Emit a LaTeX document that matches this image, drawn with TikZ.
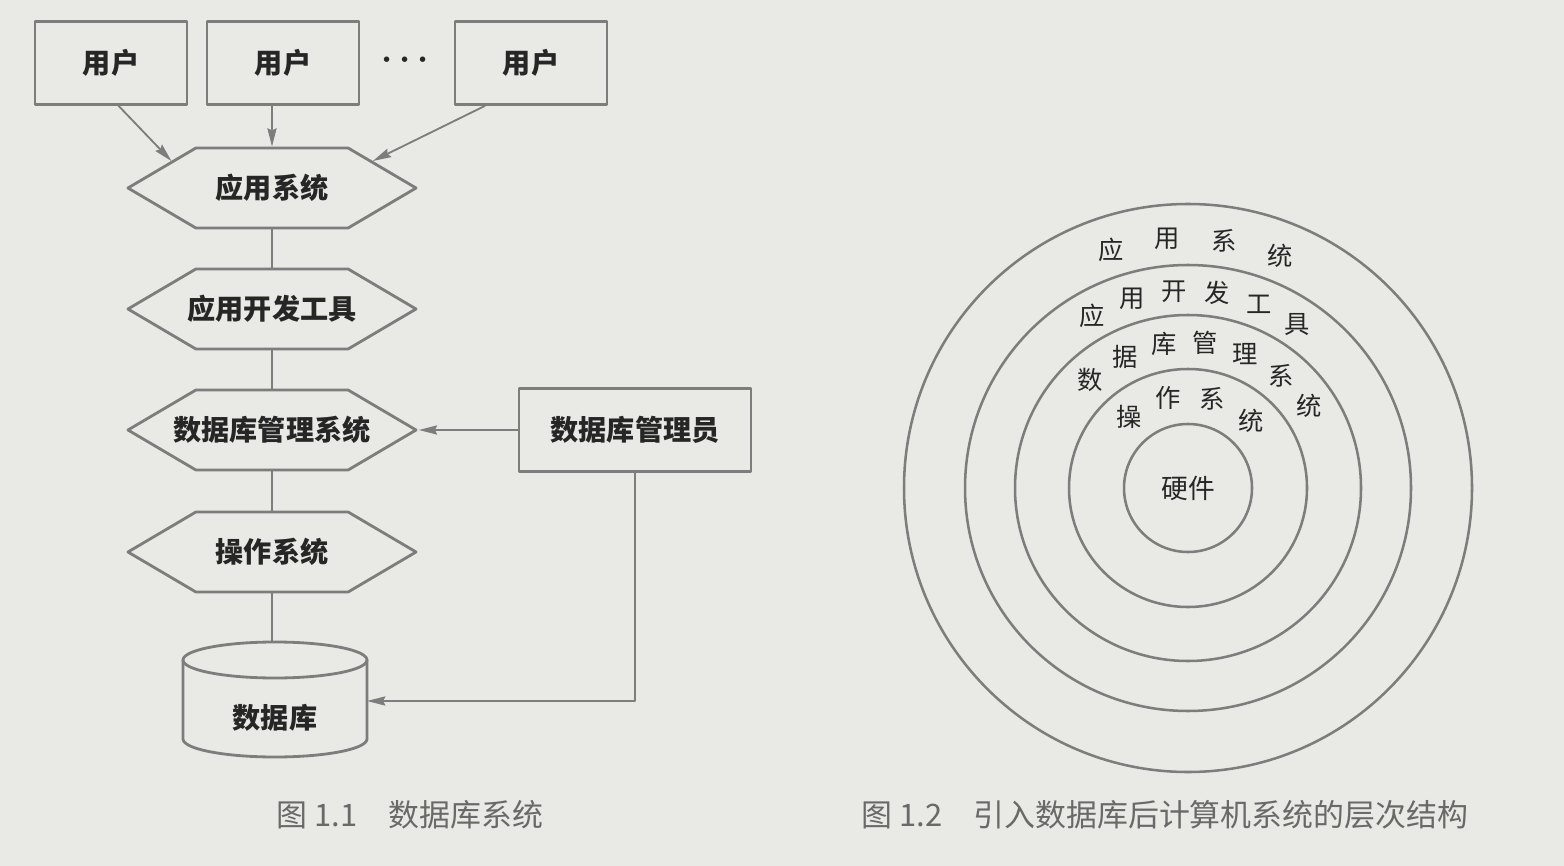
\documentclass[tikz,border=0pt]{standalone}
\usepackage{fontspec}
\newfontfamily\cjk{Noto Sans CJK SC}
\usetikzlibrary{shapes.symbols,arrows.meta}
\definecolor{paper}{RGB}{233,233,230}
\definecolor{ink}{RGB}{125,125,125}
\definecolor{txt}{RGB}{38,38,38}
\definecolor{captxt}{RGB}{105,105,105}
\begin{document}
\begin{tikzpicture}[x=0.025cm, y=-0.025cm, line join=round,
	lbl/.style={font=\cjk\bfseries\fontsize{20}{20}\selectfont, text=txt},
	box/.style={lbl, draw=ink, line width=2pt, minimum height=2.07cm},
	hexa/.style={draw=ink, line width=2pt, signal, signal to=west and east, signal pointer angle=61, minimum width=7.2cm, minimum height=2cm, inner sep=0pt},
	ring/.style={font=\cjk\fontsize{18}{18}\selectfont, text=txt, inner sep=0pt},
	figcap/.style={font=\cjk\fontsize{22}{22}\selectfont, text=captxt},
	arr/.style={draw=ink, line width=1.3pt, -{Stealth[length=13pt, width=6.5pt, inset=1.5pt]}},
	link/.style={draw=ink, line width=1.3pt}]
	\useasboundingbox (0,0) rectangle (1564,866);
	\fill[paper] (0,0) rectangle (1564,866);
	% users
	\node[box, minimum width=3.8cm] (u1) at (111,63) {用户};
	\node[box, minimum width=3.8cm] (u2) at (283,63) {用户};
	\node[lbl, font=\fontsize{24}{24}\selectfont\boldmath] (dots) at (405,60) {$\cdots$};
	\node[box, minimum width=3.8cm] (u3) at (531,63) {用户};
	% layers
	\node[hexa, label={[lbl]center:应用系统}] (app) at (272,188) {};
	\node[hexa, label={[lbl]center:应用开发工具}] (dev) at (272,309) {};
	\node[hexa, label={[lbl]center:数据库管理系统}] (dbms) at (272,430) {};
	\node[hexa, label={[lbl]center:操作系统}] (os) at (272,552) {};
	\node[box, minimum width=5.8cm] (dba) at (635,430) {数据库管理员};
	% cylinder
	\draw[ink, line width=2pt] (275,660) ellipse [x radius=92, y radius=18];
	\draw[ink, line width=2pt] (183,660) -- (183,739) arc[start angle=180, end angle=0, x radius=92, y radius=18] -- (367,660);
	\node[lbl] (db) at (275,718) {数据库};
	\coordinate (dbtop) at (275,642);
	\coordinate (dbin) at (367,701);
	% connectors
	\draw[arr] (u1.-80) -- (app.165);
	\draw[arr] (app.north |- u2.south) -- (app.north);
	\draw[arr] (u3.-137) -- (app.15);
	\draw[link] (app.south) -- (dev.north);
	\draw[link] (dev.south) -- (dbms.north);
	\draw[link] (dbms.south) -- (os.north);
	\draw[link] (os.south) -- (os.south |- dbtop);
	\draw[arr] (dba.west) -- (dbms.east);
	\draw[arr] (dba.south) |- (dbin);
	% rings
	\coordinate (hub) at (1188,488);
	\foreach \r in {64,119,173,223,284}
		\draw[ink, line width=1.8pt] (hub) circle[radius=\r];
	\node[ring, font=\cjk\fontsize{19}{19}\selectfont] (hw) at (hub) {硬件};
	\foreach \r/\a/\d/\txt in {250/108/13.2/{应,用,系,统}, 197/119/12.55/{应,用,开,发,工,具}, 146/132/16.3/{数,据,库,管,理,系,统}, 92/129.8/27.6/{操,作,系,统}}
		\foreach \ch [count=\i from 0] in \txt {
			\pgfmathsetmacro\ang{\d*\i-\a}
			\node[ring] at ([shift={(\ang:\r)}]hub) {\ch};
		}
	% captions
	\node[figcap] (cap1) at (410,815) {图 1.1\quad 数据库系统};
	\node[figcap] (cap2) at (1165,815) {图 1.2\quad 引入数据库后计算机系统的层次结构};
\end{tikzpicture}
\end{document}
